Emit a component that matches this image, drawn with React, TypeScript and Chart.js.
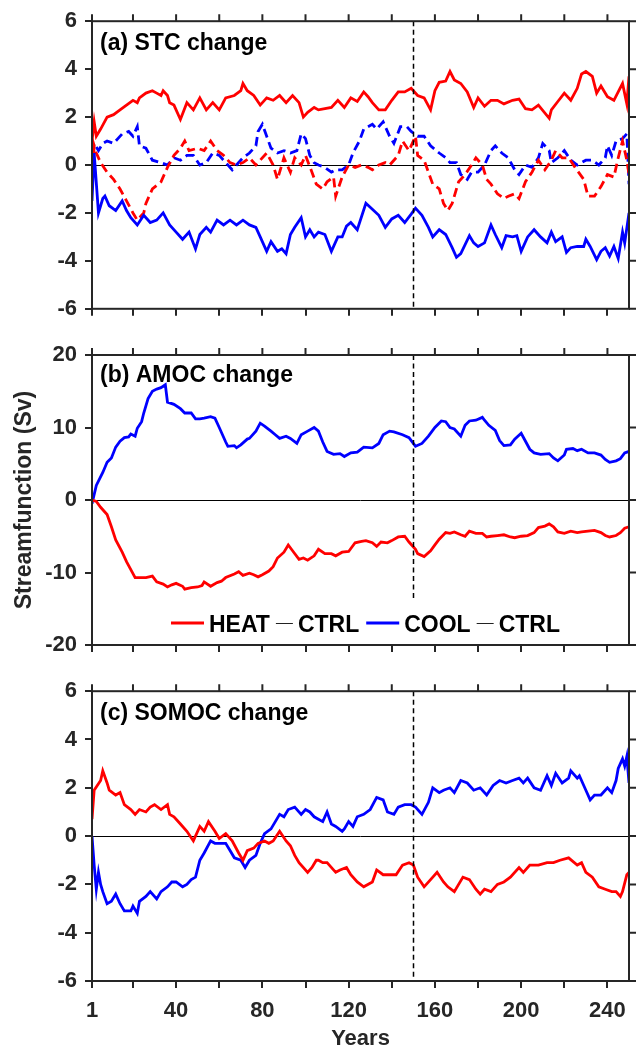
import React, { useEffect, useRef } from 'react';
import { Chart, registerables } from 'chart.js';

Chart.register(...registerables);

// ---------------- DATA ----------------
type Pt = [number, number];

const X_TICKS = [1, 20, 40, 60, 80, 100, 120, 140, 160, 180, 200, 220, 240];
const X_LABELS = [1, 40, 80, 120, 160, 200, 240];
const DIVIDER_YEAR = 150;
const LEGEND_LABELS = ['HEAT', 'COOL'];
const LEGEND_REF = 'CTRL';
const PANEL_TITLES = ['(a) STC change', '(b) AMOC change', '(c) SOMOC change'];

// (a) STC change
const stcHeat: Pt[] = [[1,1.0],[2,1.8],[3,1.2],[5,1.5],[8,2.0],[11,2.1],[14,2.3],[17,2.5],[20,2.7],[22,2.6],[23,2.8],[26,3.0],[29,3.1],[31,3.0],[33,2.9],[34,3.1],[36,2.9],[37,2.6],[39,2.5],[42,1.9],[45,2.6],[48,2.3],[51,2.8],[54,2.3],[57,2.6],[60,2.3],[63,2.8],[67,2.9],[70,3.1],[71,3.4],[73,3.1],[76,2.9],[79,2.5],[82,2.8],[85,2.7],[88,2.9],[91,2.6],[94,2.9],[97,2.6],[99,2.0],[101,2.2],[104,2.4],[106,2.3],[109,2.35],[112,2.4],[115,2.7],[118,2.4],[121,2.8],[124,2.65],[127,3.05],[129,2.85],[131,2.6],[134,2.3],[137,2.3],[140,2.7],[143,3.05],[146,3.05],[149,3.2],[152,2.9],[155,2.8],[158,2.3],[160,3.1],[162,3.45],[165,3.5],[167,3.9],[169,3.55],[172,3.4],[175,3.05],[178,2.4],[180,2.8],[183,2.45],[186,2.7],[189,2.7],[192,2.55],[196,2.7],[199,2.75],[202,2.35],[205,2.3],[208,2.5],[213,1.95],[214,2.3],[217,2.65],[220,3.0],[223,2.7],[226,3.2],[228,3.8],[230,3.9],[233,3.7],[235,3.0],[237,3.3],[240,2.85],[243,2.7],[245,3.05],[247,3.4],[249,2.55],[250,3.7]];
const stcCool: Pt[] = [[1,-1.5],[2,0.5],[4,-2.0],[6,-1.4],[7,-1.3],[9,-1.7],[12,-1.9],[15,-1.5],[17,-1.9],[19,-2.2],[22,-2.5],[25,-2.1],[28,-2.4],[31,-2.3],[34,-2.0],[37,-2.5],[40,-2.8],[43,-3.1],[46,-2.8],[49,-3.5],[51,-2.9],[54,-2.6],[56,-2.8],[59,-2.3],[62,-2.5],[65,-2.3],[68,-2.5],[71,-2.3],[74,-2.5],[77,-2.6],[79,-3.0],[82,-3.6],[84,-3.2],[87,-3.6],[89,-3.5],[91,-3.7],[93,-2.9],[95,-2.6],[98,-2.2],[100,-3.0],[102,-2.7],[104,-3.0],[106,-2.8],[109,-2.9],[112,-3.6],[115,-3.0],[117,-3.0],[119,-2.55],[121,-2.4],[124,-2.7],[128,-1.6],[131,-1.85],[134,-2.1],[137,-2.6],[140,-2.25],[143,-2.1],[146,-2.4],[149,-2.05],[151,-1.8],[154,-2.1],[157,-2.6],[159,-3.0],[162,-2.7],[165,-2.9],[168,-3.45],[170,-3.85],[172,-3.7],[176,-2.95],[178,-3.25],[180,-3.4],[183,-3.25],[186,-2.5],[188,-2.9],[191,-3.45],[193,-2.95],[196,-3.0],[198,-2.95],[200,-3.6],[203,-3.0],[206,-2.7],[209,-3.0],[212,-3.25],[214,-2.8],[216,-3.2],[219,-3.0],[221,-3.65],[223,-3.45],[226,-3.4],[229,-3.4],[230,-3.1],[232,-3.4],[235,-3.95],[237,-3.6],[239,-3.45],[241,-3.8],[243,-3.4],[245,-3.9],[247,-2.8],[248,-3.25],[250,-2.0]];
const stcHeatDash: Pt[] = [[1,-0.7],[2,0.8],[3,0.5],[5,0.1],[8,-0.3],[11,-0.6],[14,-1.0],[17,-1.5],[20,-2.0],[22,-2.3],[25,-2.0],[26,-1.6],[29,-1.0],[33,-0.7],[36,-0.1],[39,0.4],[42,0.7],[44,1.0],[46,0.6],[50,0.7],[53,0.6],[56,1.0],[59,0.6],[62,0.4],[65,0.1],[68,0.0],[71,0.1],[74,0.3],[77,0.0],[82,0.5],[85,0.0],[87,-0.6],[90,0.3],[93,-0.3],[95,0.3],[98,0.0],[100,0.4],[103,-0.3],[105,-0.8],[108,-1.0],[110,-0.7],[113,-0.5],[114,-1.3],[117,-0.5],[120,0.0],[123,-0.1],[126,0.0],[129,-0.1],[131,-0.2],[134,0.0],[137,0.1],[139,0.0],[141,0.2],[143,0.4],[145,1.0],[148,0.6],[151,1.2],[152,0.4],[155,0.2],[157,-0.3],[159,-0.8],[162,-1.0],[164,-1.6],[166,-1.9],[168,-1.6],[171,-0.7],[174,-0.4],[177,0.0],[179,0.3],[182,0.0],[184,-0.6],[186,-0.8],[189,-1.2],[192,-1.4],[194,-1.3],[197,-1.2],[199,-1.4],[202,-0.7],[205,-0.3],[208,0.2],[211,-0.2],[214,0.2],[216,0.6],[219,0.3],[222,0.3],[225,-0.1],[229,-0.6],[231,-1.3],[234,-1.3],[237,-0.9],[240,-0.4],[243,-0.5],[245,0.3],[247,1.0],[249,0.2],[250,-0.4]];
const stcCoolDash: Pt[] = [[1,0.5],[2,0.9],[4,0.6],[6,0.9],[8,1.0],[11,0.9],[13,1.1],[15,1.3],[18,1.4],[20,1.2],[22,1.6],[23,0.8],[26,0.7],[29,0.2],[33,0.1],[36,0.0],[39,0.3],[42,0.2],[45,0.4],[48,0.4],[51,0.0],[54,0.1],[57,0.5],[60,0.4],[63,0.1],[66,-0.2],[68,0.0],[71,0.3],[74,0.5],[77,0.8],[78,1.4],[80,1.7],[82,1.2],[84,0.7],[87,0.5],[90,0.6],[93,0.5],[96,0.6],[98,1.3],[100,1.1],[102,0.4],[104,0.1],[106,0.0],[109,-0.1],[112,-0.3],[114,-0.2],[117,-0.2],[120,0.0],[122,0.5],[125,1.0],[127,1.5],[131,1.7],[133,1.5],[136,1.8],[139,1.2],[141,0.9],[144,1.6],[147,1.6],[149,1.4],[152,1.2],[155,1.2],[158,0.8],[162,0.5],[165,0.3],[167,0.1],[170,0.1],[172,-0.4],[175,-0.6],[177,-0.3],[180,-0.3],[183,0.0],[186,0.6],[188,0.8],[191,0.5],[194,0.3],[197,-0.2],[199,-0.4],[202,0.0],[205,-0.1],[208,0.3],[210,0.9],[213,0.6],[214,0.1],[217,0.3],[220,0.6],[223,0.2],[226,0.0],[230,0.2],[233,0.2],[236,0.0],[239,0.3],[240,0.8],[242,0.4],[244,1.0],[247,1.1],[249,1.3],[250,-0.8]];

// (b) AMOC change
const amocCool: Pt[] = [[1,-0.5],[3,2],[6,3.8],[8,5.2],[10,5.8],[12,7.3],[14,8.1],[16,8.6],[18,8.7],[19,9.1],[21,8.8],[22,9.9],[24,10.8],[25,12.0],[27,14.0],[29,15.0],[31,15.3],[33,15.5],[35,15.9],[36,13.5],[39,13.2],[42,12.6],[44,12.0],[47,12.0],[49,11.2],[51,11.2],[53,11.3],[56,11.5],[58,11.3],[60,10.0],[63,8.0],[64,7.4],[67,7.5],[68,7.2],[70,7.6],[73,8.4],[74,8.5],[77,9.5],[79,10.6],[81,10.2],[84,9.5],[86,9.0],[88,8.5],[91,8.8],[93,8.5],[96,7.8],[98,9.0],[101,9.5],[104,10.0],[106,9.5],[108,8.0],[110,6.7],[113,6.3],[116,6.4],[118,6.0],[121,6.5],[124,6.6],[127,7.3],[131,7.2],[134,7.8],[136,9.0],[139,9.5],[141,9.4],[145,9.0],[148,8.6],[150,7.8],[151,7.4],[154,7.8],[157,8.8],[160,10.0],[163,10.9],[165,10.8],[167,10.0],[169,9.8],[172,8.8],[174,10.3],[176,10.9],[179,11.0],[182,11.4],[183,11.0],[185,10.3],[188,9.6],[190,8.2],[192,7.5],[195,7.6],[197,8.4],[200,9.2],[202,8.1],[204,7.0],[206,6.5],[209,6.3],[213,6.4],[215,5.8],[217,5.4],[220,6.2],[221,7.0],[224,7.1],[226,6.8],[228,7.0],[231,6.5],[234,6.5],[237,6.2],[239,5.6],[241,5.2],[244,5.4],[246,5.7],[248,6.5],[250,6.7]];
const amocHeat: Pt[] = [[1,0],[3,-0.2],[5,-1.0],[8,-2.0],[10,-3.7],[12,-5.5],[15,-7.2],[17,-8.5],[19,-9.6],[21,-10.7],[23,-10.7],[26,-10.7],[29,-10.5],[31,-11.3],[34,-11.6],[36,-12.0],[38,-11.7],[40,-11.5],[43,-11.9],[44,-12.3],[47,-12.1],[50,-12.0],[52,-11.8],[53,-11.3],[56,-11.9],[59,-11.4],[61,-11.2],[63,-10.7],[67,-10.2],[69,-9.9],[71,-10.4],[74,-10.1],[76,-10.3],[78,-10.6],[80,-10.3],[83,-9.8],[85,-9.2],[87,-8.0],[90,-7.2],[92,-6.2],[94,-7.0],[97,-8.2],[99,-8.0],[101,-8.3],[104,-7.7],[106,-6.8],[109,-7.4],[112,-7.4],[114,-7.7],[117,-7.2],[120,-7.1],[123,-5.9],[126,-5.7],[128,-5.6],[131,-5.9],[133,-6.4],[135,-5.8],[138,-5.9],[140,-5.6],[143,-5.1],[146,-5.0],[148,-5.8],[151,-6.8],[152,-7.4],[155,-7.8],[158,-7.0],[160,-6.2],[162,-5.4],[165,-4.5],[167,-4.6],[169,-4.4],[172,-4.8],[174,-5.0],[176,-4.3],[179,-4.6],[182,-4.6],[184,-5.1],[186,-5.0],[189,-4.9],[192,-4.8],[195,-5.1],[197,-5.2],[200,-5.0],[203,-4.9],[206,-4.5],[208,-3.8],[211,-3.6],[213,-3.3],[215,-3.7],[217,-4.4],[220,-4.6],[223,-4.3],[226,-4.5],[228,-4.4],[231,-4.3],[234,-4.2],[237,-4.5],[239,-4.9],[241,-5.1],[244,-4.9],[246,-4.5],[248,-3.9],[250,-3.7]];

// (c) SOMOC change
const somocHeat: Pt[] = [[1,0.7],[2,1.9],[5,2.3],[6,2.7],[8,2.2],[9,1.9],[12,1.7],[14,1.8],[16,1.3],[19,1.1],[21,0.9],[23,1.1],[26,1.0],[28,1.2],[30,1.3],[33,1.1],[36,1.3],[37,0.9],[39,0.8],[42,0.5],[45,0.2],[48,-0.2],[51,0.4],[53,0.2],[55,0.6],[58,0.2],[60,-0.1],[63,0.1],[66,-0.2],[69,-0.7],[71,-1.0],[73,-0.6],[76,-0.5],[78,-0.3],[81,-0.2],[83,-0.3],[85,-0.2],[88,0.2],[91,-0.2],[93,-0.4],[95,-0.8],[97,-1.1],[101,-1.5],[103,-1.3],[105,-1.0],[106,-1.0],[108,-1.1],[110,-1.1],[114,-1.5],[116,-1.4],[119,-1.3],[121,-1.6],[124,-1.9],[127,-2.1],[131,-1.9],[133,-1.4],[136,-1.6],[139,-1.6],[142,-1.6],[145,-1.2],[148,-1.1],[150,-1.2],[152,-1.7],[155,-2.1],[158,-1.8],[161,-1.5],[164,-1.9],[166,-2.1],[169,-2.3],[171,-2.0],[173,-1.7],[176,-1.8],[179,-2.2],[181,-2.4],[183,-2.2],[186,-2.3],[189,-2.0],[192,-1.9],[195,-1.7],[199,-1.3],[201,-1.5],[204,-1.2],[208,-1.2],[212,-1.1],[215,-1.1],[218,-1.0],[222,-0.9],[226,-1.2],[228,-1.1],[230,-1.5],[233,-1.7],[236,-2.1],[239,-2.2],[242,-2.3],[244,-2.3],[246,-2.5],[247,-2.3],[249,-1.6],[250,-1.5]];
const somocCool: Pt[] = [[1,0.0],[2,-1.2],[3,-2.2],[4,-1.5],[5,-2.0],[6,-2.3],[8,-2.8],[10,-2.7],[12,-2.4],[14,-2.8],[16,-3.1],[19,-3.1],[20,-2.9],[22,-3.2],[23,-2.7],[26,-2.5],[28,-2.3],[31,-2.6],[33,-2.3],[36,-2.1],[38,-1.9],[40,-1.9],[43,-2.1],[45,-2.0],[47,-1.8],[49,-1.7],[51,-1.0],[53,-0.7],[56,-0.2],[58,-0.3],[60,-0.3],[63,-0.3],[65,-0.6],[67,-0.9],[70,-1.0],[72,-1.3],[74,-1.0],[77,-0.8],[79,-0.3],[81,0.1],[84,0.3],[86,0.6],[88,0.9],[90,0.8],[92,1.1],[95,1.2],[98,0.9],[100,1.1],[102,1.0],[104,0.8],[106,0.7],[108,0.6],[110,1.0],[112,0.5],[114,0.4],[117,0.2],[118,0.3],[120,0.6],[122,0.4],[124,0.8],[127,0.9],[130,1.1],[133,1.6],[136,1.5],[138,1.0],[141,0.9],[143,1.2],[146,1.3],[149,1.3],[151,1.2],[154,0.9],[157,1.4],[159,2.0],[162,1.8],[164,1.9],[167,2.0],[169,1.8],[172,2.3],[175,2.2],[178,1.9],[181,2.0],[184,1.7],[187,2.1],[190,2.3],[193,2.2],[196,2.3],[199,2.4],[201,2.2],[203,2.4],[206,2.0],[209,1.9],[212,2.5],[214,2.1],[216,2.6],[219,2.2],[222,2.4],[223,2.7],[226,2.4],[227,2.5],[230,1.9],[232,1.5],[234,1.7],[237,1.7],[240,2.0],[242,1.8],[244,2.3],[245,2.8],[247,3.2],[248,2.9],[249,3.3],[250,2.2]];

// ---------------- STYLE ----------------
const FONT = "'Liberation Sans', Arial, Helvetica, sans-serif";
const AXIS = '#262626';
const RED = '#ff0000';
const BLUE = '#0000ff';

type Series = { data: Pt[]; color: string; dashed?: boolean };
type Spec = {
  top: number; height: number; padTop: number; xHeight: number;
  yMin: number; yMax: number; yStep: number;
  title: string; titleBaseline: number;
  series: Series[]; xLabels: boolean; yTitle?: string; legend?: boolean;
};

const specs: Spec[] = [
  { top: 0, height: 330, padTop: 21, xHeight: 20, yMin: -6, yMax: 6, yStep: 2, title: PANEL_TITLES[0], titleBaseline: 49.5, xLabels: false,
    series: [ { data: stcHeat, color: RED }, { data: stcCool, color: BLUE }, { data: stcHeatDash, color: RED, dashed: true }, { data: stcCoolDash, color: BLUE, dashed: true } ] },
  { top: 330, height: 340, padTop: 25, xHeight: 25, yMin: -20, yMax: 20, yStep: 10, title: PANEL_TITLES[1], titleBaseline: 51.7, xLabels: false,
    yTitle: 'Streamfunction (Sv)', legend: true,
    series: [ { data: amocHeat, color: RED }, { data: amocCool, color: BLUE } ] },
  { top: 670, height: 377, padTop: 21, xHeight: 66, yMin: -6, yMax: 6, yStep: 2, title: PANEL_TITLES[2], titleBaseline: 49.5, xLabels: true,
    series: [ { data: somocHeat, color: RED }, { data: somocCool, color: BLUE } ] },
];

function decorPlugin(spec: Spec) {
  return {
    id: 'decor',
    beforeDatasetsDraw(chart: any) {
      const { ctx, chartArea: a, scales } = chart;
      const y0 = Math.round(scales.y.getPixelForValue(0)) + 0.5;
      ctx.save();
      ctx.strokeStyle = '#000';
      ctx.lineWidth = 1;
      ctx.beginPath();
      ctx.moveTo(a.left, y0);
      ctx.lineTo(a.right, y0);
      ctx.stroke();
      ctx.restore();
    },
    afterDatasetsDraw(chart: any) {
      const { ctx, chartArea: a, scales } = chart;
      const xs = scales.x, ys = scales.y;
      ctx.save();
      // divider
      const xd = Math.round(xs.getPixelForValue(DIVIDER_YEAR)) + 0.5;
      ctx.strokeStyle = '#000';
      ctx.lineWidth = 1.5;
      ctx.setLineDash([5, 3.5]);
      ctx.beginPath();
      ctx.moveTo(xd, a.top);
      ctx.lineTo(xd, a.bottom);
      ctx.stroke();
      ctx.setLineDash([]);

      // legend
      if (spec.legend) {
        ctx.fillStyle = '#fff';
        ctx.fillRect(165, 270, 400, 42);
        ctx.font = `bold 23px ${FONT}`;
        ctx.textBaseline = 'alphabetic';
        const yl = 293, yt = 302.3;
        let x = 171;
        const colors = [RED, BLUE];
        LEGEND_LABELS.forEach((lab, i) => {
          ctx.strokeStyle = colors[i];
          ctx.lineWidth = 2.8;
          ctx.beginPath(); ctx.moveTo(x, yl); ctx.lineTo(x + 33, yl); ctx.stroke();
          x += 38;
          ctx.fillStyle = '#000';
          ctx.fillText(lab, x, yt);
          x += ctx.measureText(lab).width + 6;
          ctx.strokeStyle = '#222';
          ctx.lineWidth = 1;
          ctx.beginPath(); ctx.moveTo(x, yl + 0.5); ctx.lineTo(x + 17, yl + 0.5); ctx.stroke();
          x += 22;
          ctx.fillText(LEGEND_REF, x, yt);
          x += ctx.measureText(LEGEND_REF).width + 7;
        });
      }

      // panel title
      ctx.fillStyle = '#000';
      ctx.font = `bold 23px ${FONT}`;
      ctx.textBaseline = 'alphabetic';
      ctx.textAlign = 'left';
      ctx.fillText(spec.title, a.left + 8, spec.titleBaseline);

      // frame
      ctx.strokeStyle = AXIS;
      ctx.lineWidth = 2;
      ctx.strokeRect(a.left, a.top, a.right - a.left, a.bottom - a.top);
      // top & right ticks
      ctx.beginPath();
      X_TICKS.forEach((v) => {
        const px = xs.getPixelForValue(v);
        ctx.moveTo(px, a.top);
        ctx.lineTo(px, a.top - 7);
      });
      ys.ticks.forEach((t: any) => {
        const py = ys.getPixelForValue(t.value);
        ctx.moveTo(a.right, py);
        ctx.lineTo(a.right + 7, py);
      });
      ctx.stroke();
      ctx.restore();
    },
  };
}

function Panel({ spec }: { spec: Spec }) {
  const ref = useRef<HTMLCanvasElement>(null);
  useEffect(() => {
    const tickFont = { family: FONT, size: 22, weight: 'bold' as const };
    const chart = new Chart(ref.current as HTMLCanvasElement, {
      type: 'line',
      data: {
        datasets: spec.series.map((s) => ({
          data: s.data.map(([x, y]) => ({ x, y })),
          borderColor: s.color,
          backgroundColor: s.color,
          borderWidth: 2.8,
          borderDash: s.dashed ? [9, 5] : [],
          pointRadius: 0,
          tension: 0,
          fill: false,
        })),
      },
      options: {
        responsive: false,
        animation: false,
        layout: { padding: { left: 0, right: 9, top: spec.padTop, bottom: 0 } },
        plugins: { legend: { display: false }, tooltip: { enabled: false } },
        scales: {
          x: {
            type: 'linear', min: 1, max: 250,
            afterBuildTicks: (s: any) => { s.ticks = X_TICKS.map((v) => ({ value: v })); },
            afterFit: (s: any) => { s.height = spec.xHeight; },
            ticks: {
              autoSkip: false, maxRotation: 0, minRotation: 0, padding: 10, color: AXIS, font: tickFont,
              callback: (v: any) => (spec.xLabels && X_LABELS.includes(Number(v)) ? String(v) : ''),
            },
            grid: { drawOnChartArea: false, drawTicks: true, tickLength: 7, tickWidth: 2, tickColor: AXIS, lineWidth: 2, color: AXIS },
            border: { display: false },
            title: {
              display: spec.xLabels, text: 'Years', color: AXIS,
              font: { family: FONT, size: 22, weight: 'bold', lineHeight: 1 },
              padding: { top: 0, bottom: -3 },
            },
          },
          y: {
            type: 'linear', min: spec.yMin, max: spec.yMax,
            afterFit: (s: any) => { s.width = 92; },
            ticks: { stepSize: spec.yStep, padding: 8, color: AXIS, font: tickFont },
            grid: { drawOnChartArea: false, drawTicks: true, tickLength: 7, tickWidth: 2, tickColor: AXIS, lineWidth: 2, color: AXIS },
            border: { display: false },
            title: {
              display: !!spec.yTitle, text: spec.yTitle || '', color: AXIS,
              font: { family: FONT, size: 23, weight: 'bold' },
              padding: { top: 11, bottom: 0 },
            },
          },
        },
      } as any,
      plugins: [decorPlugin(spec)],
    });
    return () => chart.destroy();
  }, [spec]);
  return (
    <canvas
      ref={ref}
      width={638}
      height={spec.height}
      style={{ position: 'absolute', left: 0, top: spec.top, width: 638, height: spec.height, display: 'block' }}
    />
  );
}

export default function App() {
  return (
    <div style={{ position: 'absolute', left: 0, top: 0, width: 638, height: 1047, overflow: 'hidden', background: '#fff' }}>
      {specs.map((s, i) => <Panel key={i} spec={s} />)}
    </div>
  );
}
